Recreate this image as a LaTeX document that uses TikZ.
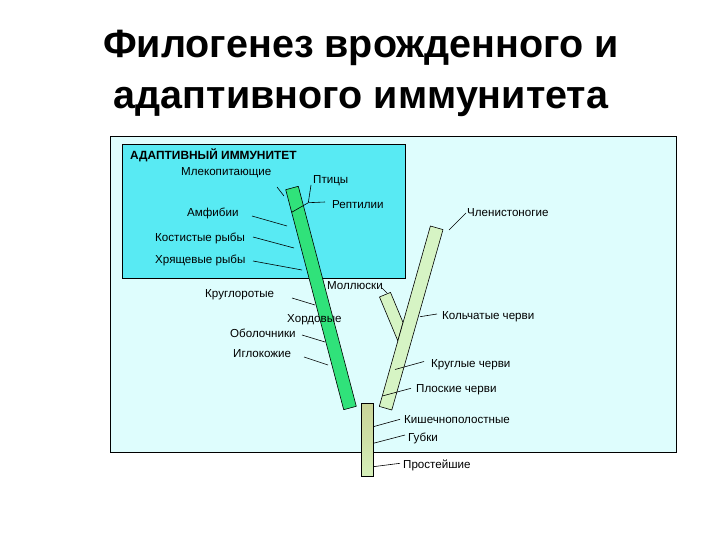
\documentclass[tikz,border=0pt]{standalone}
\usepackage{fontspec}
\setmainfont{Liberation Sans}
\begin{document}
\begin{tikzpicture}[x=1pt,y=-1pt,
  lbl/.style={anchor=base west,inner sep=0pt,font=\fontsize{11.6}{13}\selectfont},
  ttl/.style={anchor=base,inner sep=0pt,font=\fontsize{39.5}{44}\selectfont\bfseries},
  bar/.style={draw=black,line width=0.6pt,line join=round},
  leader/.style={draw=black,line width=0.6pt}]
\definecolor{outerfill}{RGB}{222,253,253}
\definecolor{innerfill}{RGB}{88,234,243}
\definecolor{chordgreen}{RGB}{48,226,122}
\definecolor{palegreen}{RGB}{214,244,196}
\definecolor{khaki}{RGB}{200,212,152}
\definecolor{lightbase}{RGB}{214,240,186}
\useasboundingbox (0,0) rectangle (720,540);
\fill[white] (0,0) rectangle (720,540);
% title
\node[ttl] (t1) at (361,58) {Филогенез врожденного и};
\node[ttl] (t2) at (361,108.5) {адаптивного иммунитета};
% boxes
\draw[fill=outerfill,line width=0.7pt] (110,136) rectangle (676,452);
\draw[fill=innerfill,line width=0.7pt] (122,144) rectangle (405,278);
% Moll bar (behind arthropod bar)
\path[bar,fill=palegreen] (379.5,297) -- (390.5,292.4) -- (403,322.4) -- (397.8,340.8) -- cycle;
% arthropod bar
\path[bar,fill=palegreen] (430.4,226) -- (443,229.6) -- (391.8,410) -- (379.3,406.4) -- cycle;
% chordate bar
\path[bar,fill=chordgreen] (285.7,189.7) -- (298.3,186.3) -- (356.3,406.3) -- (343.7,409.7) -- cycle;
% base bar
\shade[top color=khaki,bottom color=lightbase,middle color=khaki!60!lightbase] (361.7,403.3) rectangle (373.3,476);
\draw[line width=0.6pt] (361.7,403.3) rectangle (373.3,476);
% coordinates for leaders
\coordinate (jr) at (308.3,202.7);
\coordinate (dl) at (291.7,212.3);
% labels
\node[lbl,font=\fontsize{11.9}{13}\selectfont\bfseries] (adapt) at (130,159.5) {АДАПТИВНЫЙ ИММУНИТЕТ};
\node[lbl] (mlek) at (181,176) {Млекопитающие};
\node[lbl] (ptic) at (313,184) {Птицы};
\node[lbl] (rept) at (332,208) {Рептилии};
\node[lbl] (amph) at (187,216) {Амфибии};
\node[lbl] (kost) at (155,241) {Костистые рыбы};
\node[lbl] (hrja) at (155,263) {Хрящевые рыбы};
\node[lbl] (moll) at (327,289) {Моллюски};
\node[lbl] (krug) at (205,297) {Круглоротые};
\node[lbl] (hord) at (287,322) {Хордовые};
\node[lbl] (obol) at (230,337) {Оболочники};
\node[lbl] (iglo) at (233,357) {Иглокожие};
\node[lbl] (chle) at (467,216) {Членистоногие};
\node[lbl] (kolc) at (442,319) {Кольчатые черви};
\node[lbl] (krch) at (431,367) {Круглые черви};
\node[lbl] (ploc) at (416,392) {Плоские черви};
\node[lbl] (kish) at (404,423) {Кишечнополостные};
\node[lbl] (gubk) at (408,441) {Губки};
\node[lbl] (pros) at (403,468) {Простейшие};
% leader end points
\coordinate (mlekA) at (277,187); \coordinate (mlekB) at (284,196);
\coordinate (pticA) at (311,185);
\coordinate (reptA) at (325,202);
\coordinate (amphA) at (252,216); \coordinate (amphB) at (287,226);
\coordinate (kostA) at (253,237); \coordinate (kostB) at (294,248);
\coordinate (hrjaA) at (253,261); \coordinate (hrjaB) at (302,270);
\coordinate (mollA) at (382,288); \coordinate (mollB) at (387,293);
\coordinate (krugA) at (292,298); \coordinate (krugB) at (315,305);
\coordinate (obolA) at (302,335); \coordinate (obolB) at (325,342);
\coordinate (igloA) at (304,357); \coordinate (igloB) at (328,365);
\coordinate (chleA) at (449,230); \coordinate (chleB) at (466,213);
\coordinate (kolcA) at (420,316.7); \coordinate (kolcB) at (437,314);
\coordinate (krchA) at (395,369.5); \coordinate (krchB) at (424,361.5);
\coordinate (plocA) at (382.3,396); \coordinate (plocB) at (411,388.3);
\coordinate (kishA) at (373.3,426.7); \coordinate (kishB) at (400,419.3);
\coordinate (gubkA) at (373.3,443.3); \coordinate (gubkB) at (405,435);
\coordinate (prosA) at (373.3,466.7); \coordinate (prosB) at (400,463.3);
% leaders
\draw[leader] (mlekA) -- (mlekB);
\draw[leader] (pticA) -- (jr);
\draw[leader] (jr) -- (reptA);
\draw[leader] (dl) -- (jr);
\draw[leader] (amphA) -- (amphB);
\draw[leader] (kostA) -- (kostB);
\draw[leader] (hrjaA) -- (hrjaB);
\draw[leader] (mollA) -- (mollB);
\draw[leader] (krugA) -- (krugB);
\draw[leader] (obolA) -- (obolB);
\draw[leader] (igloA) -- (igloB);
\draw[leader] (chleA) -- (chleB);
\draw[leader] (kolcA) -- (kolcB);
\draw[leader] (krchA) -- (krchB);
\draw[leader] (plocA) -- (plocB);
\draw[leader] (kishA) -- (kishB);
\draw[leader] (gubkA) -- (gubkB);
\draw[leader] (prosA) -- (prosB);
\end{tikzpicture}
\end{document}
